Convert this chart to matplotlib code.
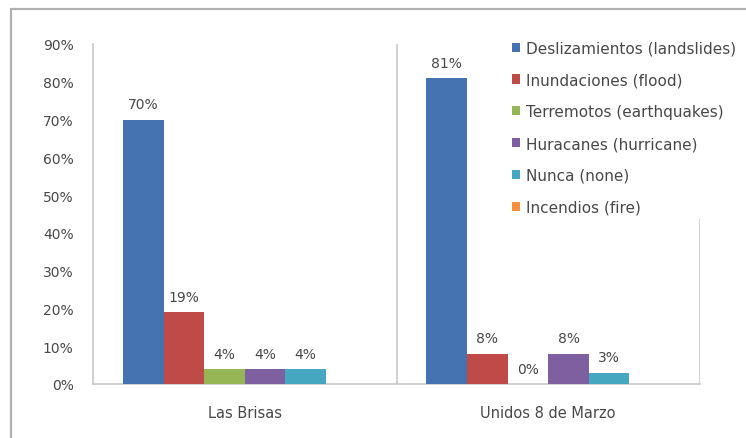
import matplotlib
matplotlib.use("Agg")
import matplotlib.pyplot as plt
from matplotlib.patches import Rectangle
import numpy as np

categories = ["Las Brisas", "Unidos 8 de Marzo"]
series_names = ["Deslizamientos (landslides)", "Inundaciones (flood)",
                "Terremotos (earthquakes)", "Huracanes (hurricane)",
                "Nunca (none)", "Incendios (fire)"]
deslizamientos = [0.70, 0.81]
inundaciones = [0.19, 0.08]
terremotos = [0.04, 0.00]
huracanes = [0.04, 0.08]
nunca = [0.04, 0.03]
incendios = [None, None]
series_values = [deslizamientos, inundaciones, terremotos, huracanes, nunca, incendios]
yticks = [0, 0.1, 0.2, 0.3, 0.4, 0.5, 0.6, 0.7, 0.8, 0.9]
ytick_labels = ["0%", "10%", "20%", "30%", "40%", "50%", "60%", "70%", "80%", "90%"]

colors = ["#4572B0", "#BF4B48", "#96B655", "#7E5FA0", "#46A7C0", "#F38F3E"]
text_color = "#484848"
font = "DejaVu Sans"
fs = 10

W, H = 746, 439
fig = plt.figure(figsize=(W / 100, H / 100), dpi=100)
ax = fig.add_axes([93 / W, 54 / H, (700 - 93) / W, (385 - 45) / H])

# outer chart border
fig.patches.append(Rectangle((11 / W, -0.05), 1.0, (439 - 10) / H + 0.05,
                             transform=fig.transFigure, fill=False,
                             edgecolor="#b0b0b0", linewidth=1.6, zorder=0))

n = len(series_names)
bar_w = (1 - 2 * 30 / 304) / n
x = np.arange(len(categories))
handles = []
for i, (name, vals, c) in enumerate(zip(series_names, series_values, colors)):
    offs = -0.5 + 30 / 304 + bar_w * (i + 0.5)
    for j, v in enumerate(vals):
        if v is None:
            continue
        ax.bar(x[j] + offs, v, width=bar_w, color=c, zorder=3)
        ax.text(x[j] + offs, v + 0.022, f"{v * 100:.0f}%", ha="center", va="bottom",
                fontsize=fs, color=text_color, family=font, zorder=4)
    handles.append(Rectangle((0, 0), 1, 1, facecolor=c))

ax.set_xlim(-0.5, 1.5)
ax.set_ylim(0, 0.9)
ax.set_yticks(yticks)
ax.set_yticklabels(ytick_labels, family=font, fontsize=fs, color=text_color)
ax.set_xticks(x)
ax.set_xticklabels(categories, family=font, fontsize=10.5, color=text_color)
ax.tick_params(axis="both", length=0)
ax.tick_params(axis="y", pad=14)
ax.tick_params(axis="x", pad=15)
for s in ["top", "right"]:
    ax.spines[s].set_visible(False)
ax.spines["left"].set_color("#c8c8c8")
ax.spines["bottom"].set_color("#c8c8c8")
ax.spines["left"].set_linewidth(1.2)
ax.spines["bottom"].set_linewidth(1.2)
for xv in [0.5, 1.5]:
    ax.axvline(xv, color="#c8c8c8", linewidth=1.2, zorder=1)

leg = ax.legend(handles, series_names, loc="upper left",
                bbox_to_anchor=(507 / W, (439 - 37) / H), bbox_transform=fig.transFigure,
                frameon=True, facecolor="white", edgecolor="none", framealpha=1,
                handlelength=0.55, handleheight=0.55, handletextpad=0.4,
                labelspacing=1.1, borderpad=0.3, borderaxespad=0,
                prop={"family": font, "size": 11})
leg.set_zorder(10)
for t in leg.get_texts():
    t.set_color(text_color)

fig.savefig("out.png", dpi=100, facecolor="white")
